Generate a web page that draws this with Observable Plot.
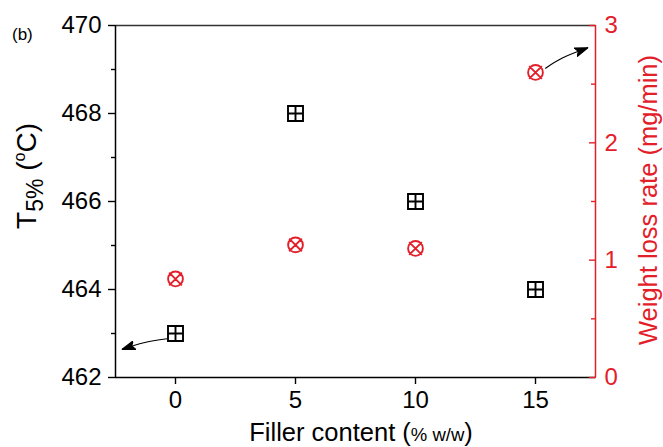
<!DOCTYPE html>
<html>
<head>
<meta charset="utf-8">
<script src="https://cdn.jsdelivr.net/npm/d3@7"></script>
<script src="https://cdn.jsdelivr.net/npm/@observablehq/plot@0.6"></script>
<style>
  html, body { margin: 0; padding: 0; background: white; }
  svg { display: block; }
</style>
</head>
<body>
<div id="chart"></div>
<script>
// ---- data ----
const fillerContent = [0, 5, 10, 15];
const t5Percent = [463, 468, 466, 464];           // left axis, °C
const weightLossRate = [0.84, 1.13, 1.10, 2.60];  // right axis, mg/min
const xTicks = [0, 5, 10, 15];
const leftTicks = [462, 464, 466, 468, 470];
const leftMinorTicks = [463, 465, 467, 469];
const rightTicks = [0, 1, 2, 3];
const rightMinorTicks = [0.5, 1.5, 2.5];
const xDomain = [-2.5, 17.5];
const leftDomain = [462, 470];
const rightDomain = [0, 3];
// annotation arrows (data coords): T5% arrow in °C, weight-loss arrow in mg/min
const arrowT = [{x: -0.35, v: 462.88}, {x: -1.32, v: 462.79}, {x: -2.22, v: 462.64}];
const arrowW = [{x: 15.42, v: 2.636}, {x: 16.14, v: 2.725}, {x: 17.18, v: 2.81}];

const RED = "#e3202a";
const toLeft = v => leftDomain[0] + (v - rightDomain[0]) * (leftDomain[1] - leftDomain[0]) / (rightDomain[1] - rightDomain[0]);
const fromLeft = y => rightDomain[0] + (y - leftDomain[0]) * (rightDomain[1] - rightDomain[0]) / (leftDomain[1] - leftDomain[0]);

const rows = fillerContent.map((f, i) => ({f, t: t5Percent[i], w: weightLossRate[i]}));

// custom symbols
const squarePlus = {
  draw(ctx, size) {
    const r = Math.sqrt(size / Math.PI);
    ctx.moveTo(-r, -r); ctx.lineTo(r, -r); ctx.lineTo(r, r); ctx.lineTo(-r, r); ctx.closePath();
    ctx.moveTo(0, -r); ctx.lineTo(0, r);
    ctx.moveTo(-r, 0); ctx.lineTo(r, 0);
  }
};
const circleX = {
  draw(ctx, size) {
    const r = Math.sqrt(size / Math.PI);
    ctx.moveTo(r, 0); ctx.arc(0, 0, r, 0, 2 * Math.PI);
    const a = r * 0.86;
    ctx.moveTo(-a, -a); ctx.lineTo(a, a);
    ctx.moveTo(-a, a); ctx.lineTo(a, -a);
  }
};

const NS = "http://www.w3.org/2000/svg";
function filledArrow(color) {
  const m = document.createElementNS(NS, "marker");
  m.setAttribute("viewBox", "-13 -5 13 10");
  m.setAttribute("markerWidth", 13);
  m.setAttribute("markerHeight", 10);
  m.setAttribute("markerUnits", "userSpaceOnUse");
  m.setAttribute("refX", 0);
  m.setAttribute("refY", 0);
  m.setAttribute("orient", "auto");
  const p = document.createElementNS(NS, "path");
  p.setAttribute("d", "M0,0L-13,-4.5L-10,0L-13,4.5Z");
  p.setAttribute("fill", color);
  m.appendChild(p);
  return m;
}

const FS = 24;
const chart = Plot.plot({
  width: 663,
  height: 447,
  marginLeft: 115,
  marginRight: 68,
  marginTop: 25,
  marginBottom: 70,
  x: {domain: xDomain},
  y: {domain: leftDomain},
  style: {fontFamily: "'Liberation Sans', Arial, sans-serif", fontSize: FS + "px", background: "white", color: "black"},
  marks: [
    // frame lines
    Plot.ruleY([leftDomain[1]], {stroke: "#333", strokeWidth: 1.5}),
    Plot.ruleX([xDomain[1]], {stroke: RED, strokeWidth: 1.5}),
    Plot.ruleX([xDomain[0]], {stroke: "black", strokeWidth: 1.5}),
    Plot.ruleY([leftDomain[0]], {stroke: "black", strokeWidth: 1.5}),
    // bottom axis
    Plot.axisX({ticks: xTicks, tickSize: 7, tickPadding: 6, strokeWidth: 1.4, label: null, tickFormat: d => String(d), fontSize: FS}),
    // left axis
    Plot.axisY({ticks: leftTicks, tickSize: 7, tickPadding: 7, strokeWidth: 1.4, label: null, tickFormat: d => String(d), fontSize: FS}),
    Plot.axisY({ticks: leftMinorTicks, tickSize: 4, strokeWidth: 1.4, label: null, tickFormat: () => ""}),
    // right axis (weight loss rate)
    Plot.axisY({anchor: "right", ticks: rightTicks.map(toLeft), tickSize: 7, dx: -7, strokeWidth: 1.4, color: RED, label: null, tickFormat: () => ""}),
    Plot.axisY({anchor: "right", ticks: rightMinorTicks.map(toLeft), tickSize: 5, dx: -5, strokeWidth: 1.4, color: RED, label: null, tickFormat: () => ""}),
    Plot.axisY({anchor: "right", ticks: rightTicks.map(toLeft), tickSize: 0, tickPadding: 9, color: RED, label: null, fontSize: FS,
                tickFormat: d => String(Math.round(fromLeft(d)))}),
    // arrows
    Plot.line(arrowT, {x: "x", y: "v", curve: "natural", stroke: "black", strokeWidth: 1.2, markerEnd: filledArrow}),
    Plot.line(arrowW, {x: "x", y: d => toLeft(d.v), curve: "natural", stroke: "black", strokeWidth: 1.2, markerEnd: filledArrow}),
    // data
    Plot.dot(rows, {x: "f", y: "t", symbol: squarePlus, r: 7.5, fill: "none", stroke: "black", strokeWidth: 1.9}),
    Plot.dot(rows, {x: "f", y: d => toLeft(d.w), symbol: circleX, r: 7.4, fill: "none", stroke: RED, strokeWidth: 1.9})
  ]
});

document.getElementById("chart").appendChild(chart);

// titles
const svg = d3.select(chart);
const lt = svg.append("text")
  .attr("transform", "translate(36,176) rotate(-90)")
  .attr("text-anchor", "middle")
  .attr("fill", "black")
  .style("font-size", "28px");
lt.append("tspan").text("T");
lt.append("tspan").attr("dy", 7).style("font-size", "23px").text("5%");
lt.append("tspan").attr("dy", -7).text(" (");
lt.append("tspan").attr("dy", -11).style("font-size", "16px").text("o");
lt.append("tspan").attr("dy", 11).text("C)");

svg.append("text")
  .attr("transform", "translate(657,200) rotate(-90)")
  .attr("text-anchor", "middle")
  .attr("fill", RED)
  .style("font-size", "25.5px")
  .text("Weight loss rate (mg/min)");

const xt = svg.append("text")
  .attr("x", 361).attr("y", 441)
  .attr("text-anchor", "middle")
  .attr("fill", "black")
  .style("font-size", "25.5px");
xt.append("tspan").text("Filler content (");
xt.append("tspan").style("font-size", "18.5px").text("% w/w");
xt.append("tspan").text(")");

svg.append("text")
  .attr("x", 12).attr("y", 40)
  .attr("text-anchor", "start")
  .attr("fill", "black")
  .style("font-size", "17px")
  .text("(b)");
</script>
</body>
</html>
